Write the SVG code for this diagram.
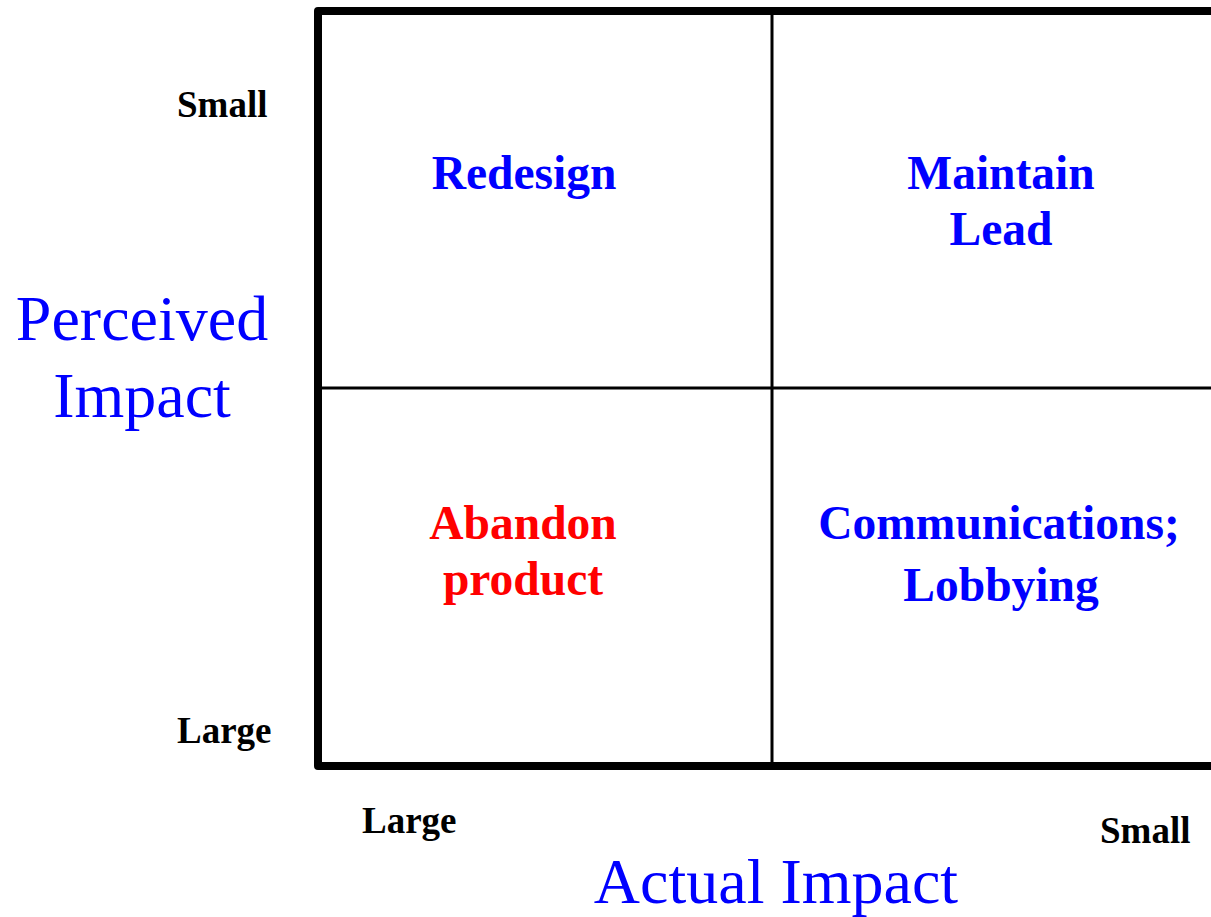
<svg xmlns="http://www.w3.org/2000/svg" width="1211" height="917" viewBox="0 0 1211 917">
<style>
.frame{fill:none;stroke:#000;stroke-width:8;stroke-linejoin:round}
.div{stroke:#000;stroke-width:3}
.q{font-family:"Liberation Serif","Times New Roman",serif;font-weight:bold;font-size:47.5px;fill:#0000ff;text-anchor:middle}
.red{fill:#ff0000}
.ax{font-family:"Liberation Serif","Times New Roman",serif;font-size:64px;fill:#0000ff;text-anchor:middle}
.sc{font-family:"Liberation Serif","Times New Roman",serif;font-weight:bold;font-size:37px;fill:#000}
</style>
<rect width="1211" height="917" fill="#fff"/>
<g id="connectors">
<rect class="frame" x="318" y="11" width="960" height="755"/>
<line class="div" x1="772" y1="11" x2="772" y2="766"/>
<line class="div" x1="318" y1="388" x2="1211" y2="388"/>
</g>
<g id="redesign"><text class="q" x="524" y="189">Redesign</text></g>
<g id="maintain-lead"><text class="q" x="1001" y="189">Maintain</text><text class="q" x="1001" y="245">Lead</text></g>
<g id="abandon"><text class="q red" x="523" y="539">Abandon</text><text class="q red" x="523" y="595">product</text></g>
<g id="communications"><text class="q" x="999" y="539">Communications;</text><text class="q" x="1001" y="601">Lobbying</text></g>
<g id="y-axis"><text class="ax" x="142" y="340">Perceived</text><text class="ax" x="142" y="417">Impact</text>
<text class="sc" x="177" y="117">Small</text><text class="sc" x="177" y="743">Large</text></g>
<g id="x-axis"><text class="ax" x="776" y="903">Actual Impact</text>
<text class="sc" x="362" y="833">Large</text><text class="sc" x="1100" y="843">Small</text></g>
</svg>
